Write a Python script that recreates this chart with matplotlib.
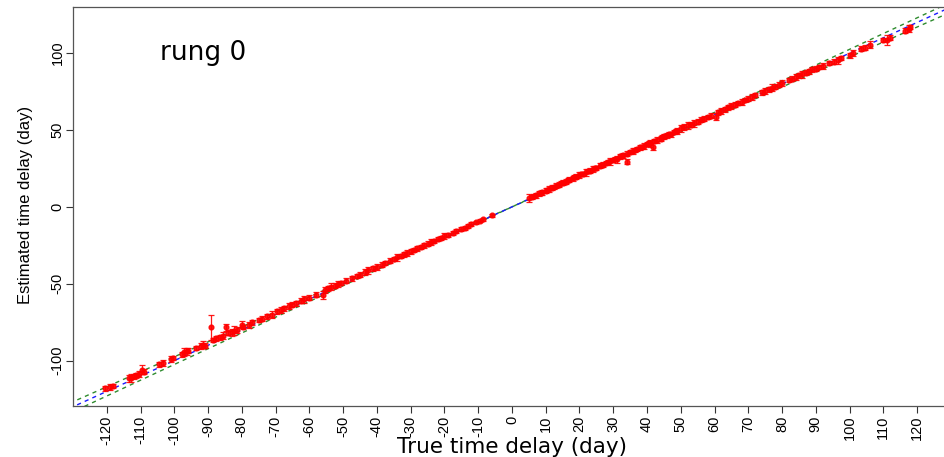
#!/usr/bin/env python3
"""Rung 0: estimated vs true time delay, with error bars and reference lines."""

import matplotlib
matplotlib.use("Agg")
import matplotlib.pyplot as plt
import numpy as np

# (true delay, estimated delay, 1-sigma error)
true_neg = [-120.5, -119.0, -118.2, -113.5, -112.8, -112.0, -111.2, -110.5, -109.5, -109.0,
            -104.5, -103.2, -101.0, -100.5, -97.8, -97.0, -96.3, -95.8, -93.5, -92.0,
            -91.5, -91.0, -89.0, -88.5, -87.5, -86.5, -85.5, -84.7, -84.0, -83.0,
            -82.3, -81.5, -80.0, -79.5, -78.0, -77.0, -75.0, -74.0, -72.5, -71.0,
            -69.5, -68.5, -67.5, -66.0, -65.0, -64.0, -62.5, -61.5, -60.0, -58.0,
            -56.0, -55.5, -54.5, -53.5, -52.5, -51.5, -50.5, -49.0, -47.5, -46.0,
            -45.0, -43.5, -42.5, -41.0, -40.0, -38.5, -37.5, -36.0, -35.0, -34.0,
            -33.0, -32.0, -31.0, -30.0, -29.0, -28.0, -27.0, -26.0, -25.0, -24.0,
            -23.0, -22.0, -21.0, -20.0, -19.0, -17.5, -16.5, -15.0, -14.0, -13.0,
            -12.0, -10.5, -9.5, -8.5, -6.0]
est_neg = [-118.0, -117.3, -116.5, -111.5, -111.0, -110.2, -109.5, -108.6, -105.8, -107.2,
           -102.5, -101.5, -99.0, -98.2, -96.0, -94.3, -94.0, -93.5, -91.8, -90.5,
           -89.5, -90.2, -78.3, -86.5, -85.5, -84.8, -83.8, -78.4, -81.8, -81.5,
           -80.5, -80.0, -76.5, -78.0, -76.8, -75.0, -73.5, -72.6, -71.2, -70.0,
           -68.0, -67.0, -66.0, -64.6, -63.5, -62.8, -61.0, -60.2, -59.0, -57.0,
           -57.3, -54.0, -53.0, -52.0, -51.2, -50.2, -49.5, -48.0, -46.5, -45.0,
           -44.0, -42.5, -41.2, -40.0, -39.0, -37.6, -36.5, -35.0, -34.0, -32.8,
           -32.0, -30.8, -30.0, -29.0, -28.0, -27.0, -26.2, -25.0, -24.0, -23.0,
           -22.2, -21.0, -20.2, -19.0, -18.2, -16.8, -15.8, -14.4, -13.5, -12.5,
           -11.3, -10.0, -9.0, -8.0, -5.5]
err_neg = [1.5, 1.8, 1.4, 2.2, 2.6, 1.8, 1.5, 2.0, 3.2, 1.8,
           1.5, 1.8, 2.2, 1.5, 1.5, 2.8, 2.5, 1.8, 1.5, 1.8,
           2.5, 1.5, 8.0, 1.5, 1.8, 1.5, 2.2, 2.0, 1.8, 2.3,
           2.8, 1.8, 2.2, 1.5, 1.8, 1.5, 1.5, 1.8, 1.5, 2.2,
           1.5, 1.8, 1.5, 1.9, 1.5, 1.5, 1.8, 2.2, 1.5, 1.5,
           2.6, 1.8, 1.5, 2.2, 1.5, 1.8, 1.5, 1.5, 1.8, 1.5,
           1.5, 1.8, 2.2, 1.5, 1.8, 1.5, 1.5, 1.8, 1.5, 2.2,
           1.5, 1.5, 1.8, 1.5, 1.5, 1.8, 1.5, 1.5, 1.5, 1.8,
           1.5, 1.5, 1.5, 1.8, 1.5, 1.3, 1.3, 1.3, 1.2, 1.2,
           1.2, 1.0, 1.0, 0.9, 0.9]

true_pos = [5.0, 6.0, 6.5, 7.0, 8.0, 8.5, 9.0, 10.0, 10.5, 11.0, 12.0, 12.5, 13.0, 14.0, 14.5,
            15.0, 16.0, 16.5, 17.0, 18.0, 18.5, 19.0, 20.0, 20.5, 21.0, 22.0, 22.5, 23.0, 24.0,
            24.5, 25.0, 26.0, 26.5, 27.0, 28.0, 28.5, 29.0, 30.0, 30.5, 31.0, 32.0, 32.5, 33.0,
            34.0, 34.0, 35.0, 36.0, 36.5, 37.0, 38.0, 38.5, 39.0, 40.0, 40.5, 41.0, 41.8, 42.0,
            43.0, 44.0, 44.5, 45.0, 46.0, 46.5, 47.0, 48.0, 48.5, 49.0, 50.0, 51.0, 52.0, 53.0,
            54.0, 55.0, 56.0, 57.0, 58.0, 59.0, 60.5, 61.0, 62.0, 63.0, 64.0, 65.0, 66.0, 67.0,
            68.0, 69.0, 70.0, 71.0, 72.0, 74.0, 75.0, 76.0, 77.0, 78.0, 79.0, 80.0, 82.0, 83.0,
            84.0, 85.0, 86.0, 87.0, 88.0, 89.0, 90.0, 91.0, 92.0, 94.0, 95.5, 96.5, 97.5, 100.0,
            101.0, 103.5, 104.5, 106.0, 110.0, 111.0, 112.0, 116.5, 117.5, 118.0]
est_pos = [5.8, 6.5, 7.2, 7.5, 8.8, 9.0, 9.5, 10.6, 11.2, 11.8, 12.5, 13.2, 13.8, 14.5, 15.3,
           15.8, 16.5, 17.2, 17.8, 18.5, 19.3, 19.6, 20.8, 21.2, 21.5, 22.6, 23.3, 23.5, 24.8,
           25.2, 25.4, 26.8, 27.3, 27.5, 28.6, 29.2, 29.8, 30.5, 31.3, 31.0, 32.8, 33.2, 33.5,
           34.6, 29.5, 35.8, 36.4, 37.3, 37.6, 38.8, 39.2, 39.5, 40.8, 41.3, 41.5, 39.2, 42.8,
           43.6, 44.4, 45.2, 45.8, 46.5, 47.3, 47.2, 48.8, 49.3, 49.5, 51.0, 52.0, 53.0, 53.5,
           54.5, 55.5, 56.8, 57.5, 58.6, 59.4, 58.8, 61.6, 62.5, 63.5, 64.8, 65.5, 66.5, 67.6,
           68.4, 69.5, 70.5, 71.5, 72.8, 74.5, 75.5, 76.5, 77.5, 78.2, 79.5, 80.5, 82.5, 83.5,
           84.5, 85.5, 86.2, 87.4, 88.2, 89.5, 90.0, 91.0, 91.5, 93.6, 94.5, 95.5, 96.8, 98.5,
           100.0, 103.0, 103.5, 105.5, 108.6, 108.5, 110.0, 114.6, 116.0, 117.0]
err_pos = [2.3, 1.5, 1.3, 1.5, 1.8, 1.3, 1.5, 1.5, 1.3, 1.8, 1.5, 1.3, 1.5, 1.8, 1.3,
           1.5, 1.5, 1.3, 1.8, 1.5, 1.3, 1.5, 1.8, 1.3, 1.5, 2.3, 1.3, 1.5, 1.8,
           1.3, 1.5, 1.5, 1.3, 1.8, 1.5, 1.3, 2.3, 1.5, 1.3, 2.3, 1.5, 1.3, 1.8,
           1.5, 1.5, 1.5, 1.8, 1.3, 1.5, 1.5, 1.3, 1.8, 1.5, 1.3, 2.3, 2.3, 1.5,
           1.8, 1.5, 1.3, 1.5, 1.8, 1.3, 1.5, 1.5, 1.3, 1.8, 2.3, 1.8, 2.3, 1.5,
           2.3, 1.5, 1.8, 1.5, 1.5, 1.8, 2.3, 1.5, 1.8, 1.5, 1.5, 1.8, 1.5, 1.5,
           1.8, 1.5, 1.5, 1.8, 1.5, 1.5, 1.8, 1.5, 2.3, 1.5, 1.5, 1.8, 1.5, 1.5,
           1.8, 1.5, 2.3, 1.5, 1.5, 1.8, 1.5, 1.5, 1.8, 1.5, 1.5, 2.3, 1.5, 1.5,
           1.8, 1.5, 1.5, 2.3, 1.5, 3.0, 1.5, 1.8, 2.3, 1.5]

x_ticks = list(range(-120, 121, 10))
y_ticks = [-100, -50, 0, 50, 100]
band_frac = 0.025  # half-width of the green dashed band, as fraction of delay


def main() -> None:
    fig = plt.figure(figsize=(9.44, 4.57), dpi=100)
    ax = fig.add_axes([0.0773, 0.1116, 0.930, 0.873])

    ax.set_xlim(-130, 130)
    ax.set_ylim(-129.5, 130)

    line_x = np.array([-140.0, 140.0])
    dash = (0, (3, 3))
    ax.plot(line_x, line_x * (1 + band_frac), color="#2e8b2e", ls=dash, lw=1.0, zorder=1)
    ax.plot(line_x, line_x * (1 - band_frac), color="#2e8b2e", ls=dash, lw=1.0, zorder=1)
    ax.plot(line_x, line_x, color="#1a1aff", ls=dash, lw=1.0, zorder=1)

    tx = true_neg + true_pos
    ty = est_neg + est_pos
    te = err_neg + err_pos
    ax.errorbar(tx, ty, yerr=te, fmt="o", color="red", ecolor="red", ms=3.4,
                elinewidth=0.9, capsize=2.2, capthick=0.9, alpha=0.9, zorder=3)

    ax.text(-104.3, 95.5, "rung 0", fontsize=19, family="DejaVu Sans",
            ha="left", va="baseline")

    ax.set_xticks(x_ticks)
    ax.set_xticklabels([str(t) for t in x_ticks], rotation=90,
                       family="Liberation Sans", fontsize=10.5)
    ax.set_yticks(y_ticks)
    ax.set_yticklabels([str(t) for t in y_ticks], rotation=90, va="center",
                       family="Liberation Sans", fontsize=10.5)
    ax.tick_params(axis="both", length=5, width=0.8, color="#333333")
    ax.tick_params(axis="x", pad=2)
    ax.tick_params(axis="y", pad=1)

    ax.set_xlabel("True time delay (day)", fontsize=15.5, family="DejaVu Sans")
    ax.xaxis.set_label_coords(0.5, -0.077)
    ax.set_ylabel("Estimated time delay (day)", fontsize=12, family="Liberation Sans")
    ax.yaxis.set_label_coords(-0.045, 0.505)

    for sp in ax.spines.values():
        sp.set_color("#555555")
        sp.set_linewidth(0.9)

    fig.savefig("out.png", dpi=100)
    plt.close(fig)


if __name__ == "__main__":
    main()
